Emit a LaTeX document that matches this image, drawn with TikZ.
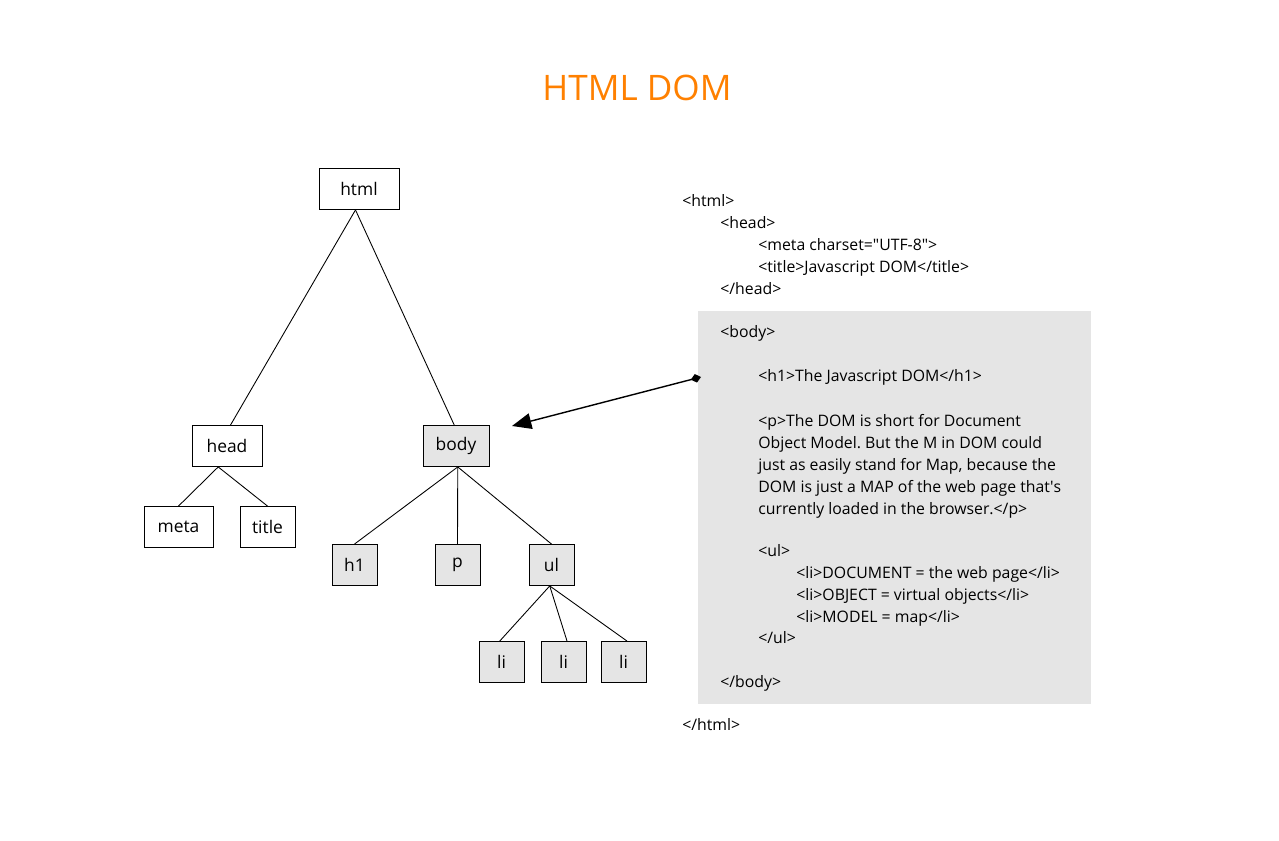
\documentclass[tikz,border=0pt]{standalone}
\usepackage{fontspec}
\setmainfont{Open Sans}
\usetikzlibrary{positioning,arrows.meta}
\definecolor{domorange}{HTML}{FF8000}
\definecolor{domgray}{HTML}{E5E5E5}
\frenchspacing
\tikzset{
  tag/.style={
    draw, line width=0.5pt, inner sep=0pt,
    minimum height=0.82cm, font=\fontsize{9.9}{11}\selectfont,
  },
  plain/.style={tag, fill=white},
  marked/.style={tag, fill=domgray},
  branch/.style={line width=0.5pt},
  code/.style={anchor=base west, inner sep=0pt,
    font=\fontsize{9}{11}\selectfont},
  pointer/.style={line width=0.8pt, {Diamond[length=6pt,width=5pt]}-{Triangle[length=11pt,width=9pt]}},
}

\begin{document}
\begin{tikzpicture}[x=0.02cm, y=-0.02cm]
\useasboundingbox (0,0) rectangle (1279,841);

% ---- title ------------------------------------------------------------------
\node[text=domorange, font=\fontsize{20}{24}\selectfont] (heading) at (637,88) {HTML DOM};

% ---- code listing -----------------------------------------------------------
\fill[domgray] (698,311) rectangle (1091,704);
\node[code] (lhtml)   at (682,207) {<html>};
\node[code] (lhead)   at (720,229) {<head>};
\node[code] (lmeta)   at (758,251) {<meta charset=\textquotedbl UTF-8\textquotedbl>};
\node[code] (ltitle)  at (758,273) {<title>Javascript DOM</title>};
\node[code] (lheadc)  at (720,295) {</head>};
\node[code] (lbody)   at (720,338) {<body>};
\node[code] (lh1)     at (758,382) {<h1>The Javascript DOM</h1>};
\node[code] (lp1)     at (758,426) {<p>The DOM is short for Document};
\node[code] (lp2)     at (758,448) {Object Model. But the M in DOM could};
\node[code] (lp3)     at (758,470) {just as easily stand for Map, because the};
\node[code] (lp4)     at (758,492) {DOM is just a MAP of the web page that\textquotesingle s};
\node[code] (lp5)     at (758,514) {currently loaded in the browser.</p>};
\node[code] (lul)     at (758,556) {<ul>};
\node[code] (lli1)    at (796,578) {<li>DOCUMENT = the web page</li>};
\node[code] (lli2)    at (796,600) {<li>OBJECT = virtual objects</li>};
\node[code] (lli3)    at (796,622) {<li>MODEL = map</li>};
\node[code] (lulc)    at (758,643) {</ul>};
\node[code] (lbodyc)  at (720,687) {</body>};
\node[code] (lhtmlc)  at (682,730) {</html>};

% ---- tree -------------------------------------------------------------------
\node[plain,  minimum width=1.6cm]  (html)  at (359,189)   {html};
\node[plain,  minimum width=1.4cm]  (head)  at (227,446)   {head};
\node[marked, minimum width=1.32cm] (body)  at (456,446)   {body};
\node[plain,  minimum width=1.38cm] (meta)  at (178.5,527) {meta};
\node[plain,  minimum width=1.1cm]  (title) at (267.5,527) {title};
\node[marked, minimum width=0.9cm]  (h1)    at (354.5,565) {h1};
\node[marked, minimum width=0.9cm]  (p)     at (457.5,565) {p};
\node[marked, minimum width=0.9cm]  (ul)    at (551.5,565) {ul};
\node[marked, minimum width=0.9cm]  (li1)   at (501.5,662) {li};
\node[marked, minimum width=0.9cm]  (li2)   at (563.5,662) {li};
\node[marked, minimum width=0.9cm]  (li3)   at (623.5,662) {li};

\draw[branch] ([xshift=-2]html.south) -- ([xshift=2]head.north);
\draw[branch] ([xshift=-2]html.south) -- ([xshift=-1]body.north);
\draw[branch] ([xshift=-5]head.south) -- (meta.north);
\draw[branch] ([xshift=-5]head.south) -- (title.north);
\draw[branch] ([xshift=1]body.south) -- (h1.north);
\draw[branch] ([xshift=1]body.south) -- (p.north);
\draw[branch] ([xshift=1]body.south) -- (ul.north);
\draw[branch] ([xshift=-1]ul.south) -- ([xshift=-1]li1.north);
\draw[branch] ([xshift=-1]ul.south) -- ([xshift=2]li2.north);
\draw[branch] ([xshift=-1]ul.south) -- ([xshift=2]li3.north);

% ---- link from listing to tree ---------------------------------------------
\coordinate (hook) at (701,377);
\coordinate (tip)  at (512,426);
\draw[pointer] (hook) -- (tip);

\end{tikzpicture}
\end{document}
